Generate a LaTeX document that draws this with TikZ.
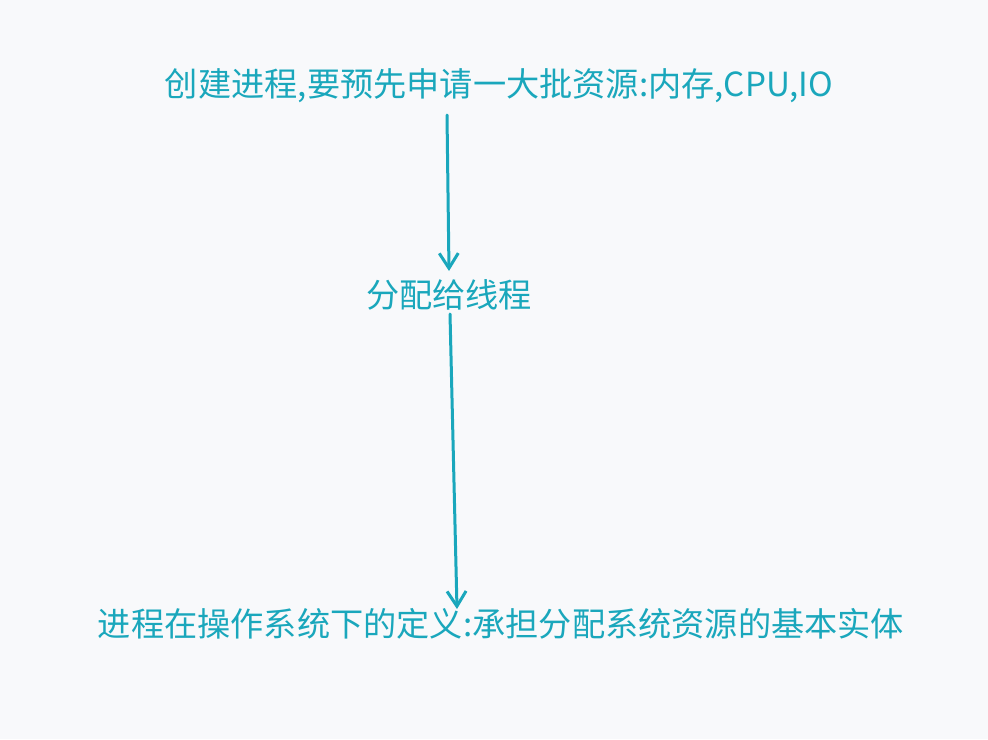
\documentclass[tikz,border=0pt]{standalone}
\usepackage{fontspec}
\setmainfont{Noto Sans CJK SC}
\usetikzlibrary{arrows.meta}
\definecolor{bg}{HTML}{F8F9FB}
\definecolor{teal}{HTML}{1AA7BC}
\begin{document}
\begin{tikzpicture}[x=1pt,y=-1pt,
  lbl/.style={text=teal,font=\fontsize{33.2}{40}\selectfont,inner sep=0pt,anchor=center},
  conn/.style={draw=teal,line width=3pt,line cap=round,-{Straight Barb[length=15pt,width=19pt,line width=3pt]}}]
\fill[bg] (0,0) rectangle (988,739);
\useasboundingbox (0,0) rectangle (988,739);
\node[lbl] (top) at (499,86) {创建进程,要预先申请一大批资源:内存,CPU,IO};
\node[lbl] (mid) at (449,295) {分配给线程};
\node[lbl] (bot) at (501,624) {进程在操作系统下的定义:承担分配系统资源的基本实体};
\coordinate (s1) at (447,115);
\coordinate (e1) at (449,271);
\coordinate (s2) at (450,314);
\coordinate (e2) at (457,609);
\draw[conn] (s1) -- (e1);
\draw[conn] (s2) -- (e2);
\end{tikzpicture}
\end{document}
